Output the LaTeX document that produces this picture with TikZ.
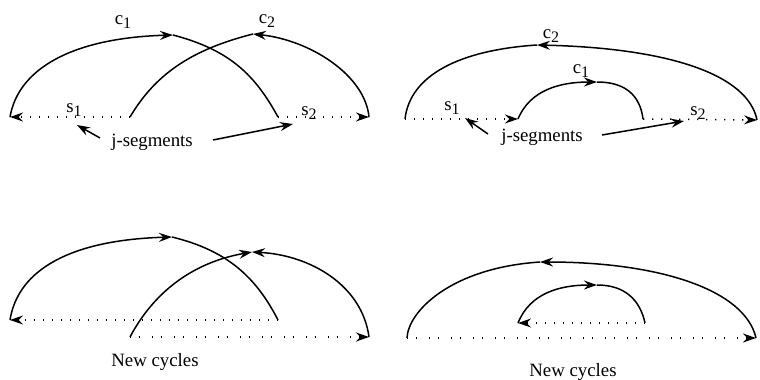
\documentclass[tikz,border=0pt]{standalone}
\usepackage{fontspec}
\setmainfont{Liberation Serif}
\usetikzlibrary{arrows.meta}
\newcommand\sublab[2]{#1\raisebox{-0.5ex}{\fontsize{8}{9}\selectfont #2}}
\begin{document}
\begin{tikzpicture}[x=0.5pt,y=-0.5pt,
  tip/.style={-{Stealth[length=6.5pt,width=4.5pt,inset=2.2pt]}},
  cyc/.style={line width=0.75pt},
  dots/.style={line width=0.75pt,dash pattern=on 0.7pt off 3.8pt},
  sparse/.style={line width=0.75pt,dash pattern=on 0.7pt off 3.6pt on 0.7pt off 6pt},
  lab/.style={inner sep=0pt,font=\fontsize{9.4}{11}\selectfont},
  txt/.style={inner sep=0pt,font=\fontsize{9.4}{11}\selectfont}]
\useasboundingbox (0,0) rectangle (760,380);
% ---------- panel 1 ----------
\coordinate (a1L) at (10,117);
\coordinate (a1A) at (130,117);
\coordinate (a1B) at (278,117);
\coordinate (a1R) at (369,117);
\coordinate (a1P) at (173,35);
\coordinate (a1Q) at (253,34);
\draw[dots,tip] (a1A) -- (a1L);
\draw[dots,tip] (a1B) -- (a1R);
\draw[cyc,tip] (a1L) .. controls (18,70) and (70,38) .. (a1P);
\draw[cyc] (a1P) .. controls (230,50) and (255,75) .. (a1B);
\draw[cyc] (a1A) .. controls (155,75) and (190,50) .. (a1Q);
\draw[cyc,tip] (a1R) .. controls (365,75) and (310,40) .. (a1Q);
\node[lab] (c1a) at (123,22) {\sublab{c}{1}};
\node[lab] (c2a) at (267,21) {\sublab{c}{2}};
\node[lab] (s1a) at (74,110) {\sublab{s}{1}};
\node[lab] (s2a) at (309,113) {\sublab{s}{2}};
\node[txt] (ja) at (152,142) {j-segments};
\coordinate (ja1) at (100,138);
\coordinate (ja2) at (77,125);
\coordinate (ja3) at (213,140);
\coordinate (ja4) at (293,124);
\draw[cyc,tip] (ja1) -- (ja2);
\draw[cyc,tip] (ja3) -- (ja4);
% ---------- panel 2 ----------
\coordinate (b2L) at (405,119);
\coordinate (b2A) at (518,119);
\coordinate (b2B) at (643,119);
\coordinate (b2R) at (757,120);
\coordinate (b2P) at (537,45);
\coordinate (b2Q) at (597,82);
\draw[dots,tip] (b2L) -- (b2A);
\draw[dots,tip] (b2B) -- (b2R);
\draw[cyc,tip] (b2R) .. controls (748,75) and (670,48) .. (b2P);
\draw[cyc] (b2P) .. controls (460,50) and (410,75) .. (b2L);
\draw[cyc,tip] (b2A) .. controls (530,90) and (560,82) .. (b2Q);
\draw[cyc] (b2Q) .. controls (625,82) and (640,95) .. (b2B);
\node[lab] (c2b) at (551,36) {\sublab{c}{2}};
\node[lab] (c1b) at (581,71) {\sublab{c}{1}};
\node[lab] (s1b) at (452,108) {\sublab{s}{1}};
\node[lab] (s2b) at (698,113) {\sublab{s}{2}};
\node[txt] (jb) at (542,137) {j-segments};
\coordinate (jb1) at (488,134);
\coordinate (jb2) at (465,118);
\coordinate (jb3) at (602,135);
\coordinate (jb4) at (684,121);
\draw[cyc,tip] (jb1) -- (jb2);
\draw[cyc,tip] (jb3) -- (jb4);
% ---------- panel 3 ----------
\coordinate (c3L) at (10,320);
\coordinate (c3B) at (278,320);
\coordinate (c3A) at (130,337);
\coordinate (c3R) at (369,337);
\coordinate (c3P) at (172,237);
\coordinate (c3Q) at (252,252);
\draw[dots,tip] (c3B) -- (c3L);
\draw[sparse,tip] (c3A) -- (c3R);
\draw[cyc,tip] (c3L) .. controls (18,270) and (70,240) .. (c3P);
\draw[cyc] (c3P) .. controls (225,250) and (255,275) .. (c3B);
\draw[cyc,tip] (c3A) .. controls (155,290) and (195,262) .. (c3Q);
\draw[cyc,tip] (c3R) .. controls (362,285) and (310,255) .. (c3Q);
\node[txt] (nc3) at (155,362) {New cycles};
% ---------- panel 4 ----------
\coordinate (d4L) at (407,338);
\coordinate (d4R) at (756,338);
\coordinate (d4A) at (518,323);
\coordinate (d4B) at (645,323);
\coordinate (d4P) at (540,262);
\coordinate (d4Q) at (597,285);
\draw[sparse,tip] (d4L) -- (d4R);
\draw[dots,tip] (d4B) -- (d4A);
\draw[cyc,tip] (d4R) .. controls (745,290) and (660,262) .. (d4P);
\draw[cyc] (d4P) .. controls (450,268) and (408,312) .. (d4L);
\draw[cyc,tip] (d4A) .. controls (530,293) and (560,285) .. (d4Q);
\draw[cyc] (d4Q) .. controls (625,285) and (640,300) .. (d4B);
\node[txt] (nc4) at (573,372) {New cycles};
\end{tikzpicture}
\end{document}
